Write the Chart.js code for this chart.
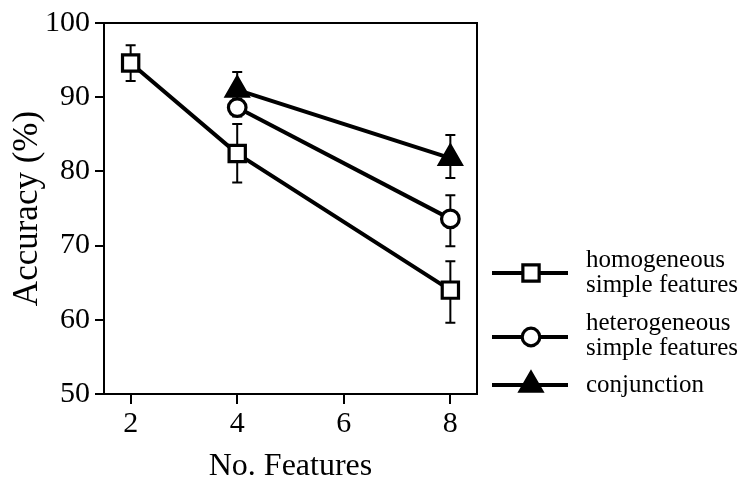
<!DOCTYPE html>
<html>
<head>
<meta charset="utf-8">
<script src="https://cdn.jsdelivr.net/npm/chart.js@4/dist/chart.umd.min.js"></script>
<style>
html,body{margin:0;padding:0;background:#fff;}
#wrap{width:747px;height:480px;position:relative;}
</style>
</head>
<body>
<div id="wrap"><canvas id="c" width="747" height="480"></canvas></div>
<script>
// ---- data ----
const xTicks = [2, 4, 6, 8];
const yTicks = [50, 60, 70, 80, 90, 100];

const homoX = [2, 4, 8];
const homoY = [94.6, 82.4, 64.0];
const homoErrUp = [2.4, 4.0, 3.9];
const homoErrDown = [2.4, 3.9, 4.4];

const heteroX = [4, 8];
const heteroY = [88.6, 73.6];
const heteroErrUp = [1.2, 3.2];
const heteroErrDown = [1.2, 3.7];

const conjX = [4, 8];
const conjY = [91.0, 81.8];
const conjErrUp = [2.4, 3.1];
const conjErrDown = [1.5, 2.7];

const labels = ['homogeneous\nsimple features', 'heterogeneous\nsimple features', 'conjunction'];

const FONT = "'Liberation Serif', 'Times New Roman', serif";

function pts(xs, ys) { return xs.map((x, i) => ({x: x, y: ys[i]})); }

const datasets = [
  {label: labels[0], data: pts(homoX, homoY), errUp: homoErrUp, errDown: homoErrDown,
   pointStyle: 'rect', pointRadius: 11.5, pointBackgroundColor: '#fff', order: 3},
  {label: labels[1], data: pts(heteroX, heteroY), errUp: heteroErrUp, errDown: heteroErrDown,
   pointStyle: 'circle', pointRadius: 8.8, pointBackgroundColor: '#fff', order: 2},
  {label: labels[2], data: pts(conjX, conjY), errUp: conjErrUp, errDown: conjErrDown,
   pointStyle: 'triangle', pointRadius: 12.5, pointBackgroundColor: '#000', order: 1}
].map(d => Object.assign({
  borderColor: '#000', borderWidth: 4, pointBorderColor: '#000', pointBorderWidth: 3.2,
  pointHoverRadius: d.pointRadius, fill: false, tension: 0
}, d));

const errorBars = {
  id: 'errorBars',
  beforeDatasetsDraw(chart) {
    const ctx = chart.ctx, xs = chart.scales.x, ys = chart.scales.y;
    ctx.save();
    ctx.strokeStyle = '#000';
    ctx.lineWidth = 2;
    chart.data.datasets.forEach(ds => {
      ds.data.forEach((p, i) => {
        const px = xs.getPixelForValue(p.x);
        const top = ys.getPixelForValue(p.y + ds.errUp[i]);
        const bot = ys.getPixelForValue(p.y - ds.errDown[i]);
        ctx.beginPath();
        ctx.moveTo(px, top); ctx.lineTo(px, bot);
        ctx.moveTo(px - 5, top); ctx.lineTo(px + 5, top);
        ctx.moveTo(px - 5, bot); ctx.lineTo(px + 5, bot);
        ctx.stroke();
      });
    });
    ctx.restore();
  }
};

const frame = {
  id: 'frame',
  afterDatasetsDraw(chart) {
    const {ctx, chartArea: a} = chart;
    ctx.save();
    ctx.strokeStyle = '#000';
    ctx.lineWidth = 2;
    ctx.beginPath();
    ctx.moveTo(a.left, a.top); ctx.lineTo(a.right, a.top); ctx.lineTo(a.right, a.bottom);
    ctx.stroke();
    ctx.restore();
  }
};

const sideLegend = {
  id: 'sideLegend',
  afterDraw(chart) {
    const ctx = chart.ctx;
    const lineY = [273, 337, 385];
    const baselines = [[267, 292], [330, 355], [392]];
    ctx.save();
    chart.data.datasets.forEach((ds, i) => {
      ctx.strokeStyle = '#000';
      ctx.lineWidth = 4;
      ctx.beginPath();
      ctx.moveTo(492, lineY[i]); ctx.lineTo(568, lineY[i]);
      ctx.stroke();
      ctx.fillStyle = ds.pointBackgroundColor;
      ctx.strokeStyle = '#000';
      ctx.lineWidth = ds.pointBorderWidth;
      Chart.helpers.drawPoint(ctx, {pointStyle: ds.pointStyle, radius: ds.pointRadius, rotation: 0, borderWidth: ds.pointBorderWidth}, 531, lineY[i]);
      ctx.fillStyle = '#000';
      ctx.font = '25px ' + FONT;
      ctx.textAlign = 'left';
      ctx.textBaseline = 'alphabetic';
      ds.label.split('\n').forEach((t, j) => ctx.fillText(t, 586, baselines[i][j]));
    });
    ctx.restore();
  }
};

new Chart(document.getElementById('c'), {
  type: 'line',
  data: {datasets: datasets},
  options: {
    responsive: false,
    animation: false,
    devicePixelRatio: 1,
    layout: {padding: {top: 22, right: 270, bottom: 0, left: 0}},
    plugins: {legend: {display: false}, tooltip: {enabled: false}},
    scales: {
      x: {
        type: 'linear', min: 1.5, max: 8.5,
        afterBuildTicks: s => { s.ticks = xTicks.map(v => ({value: v})); },
        afterFit: s => { s.height = 86; },
        grid: {drawOnChartArea: false, drawTicks: true, tickLength: 10, lineWidth: 2, color: '#000'},
        border: {display: true, color: '#000', width: 2},
        ticks: {color: '#000', font: {family: FONT, size: 30}, padding: 2, maxRotation: 0},
        title: {display: true, text: 'No. Features', color: '#000', font: {family: FONT, size: 32, lineHeight: 1}, padding: {top: 0, bottom: -3}}
      },
      y: {
        type: 'linear', min: 50, max: 100,
        afterBuildTicks: s => { s.ticks = yTicks.map(v => ({value: v})); },
        afterFit: s => { s.width = 104; },
        grid: {drawOnChartArea: false, drawTicks: true, tickLength: 9, lineWidth: 2, color: '#000'},
        border: {display: true, color: '#000', width: 2},
        ticks: {color: '#000', font: {family: FONT, size: 30}, padding: 5},
        title: {display: true, text: 'Accuracy (%)', color: '#000', font: {family: FONT, size: 35, lineHeight: 1}, padding: {top: 10, bottom: 0}}
      }
    }
  },
  plugins: [errorBars, frame, sideLegend]
});
</script>
</body>
</html>
